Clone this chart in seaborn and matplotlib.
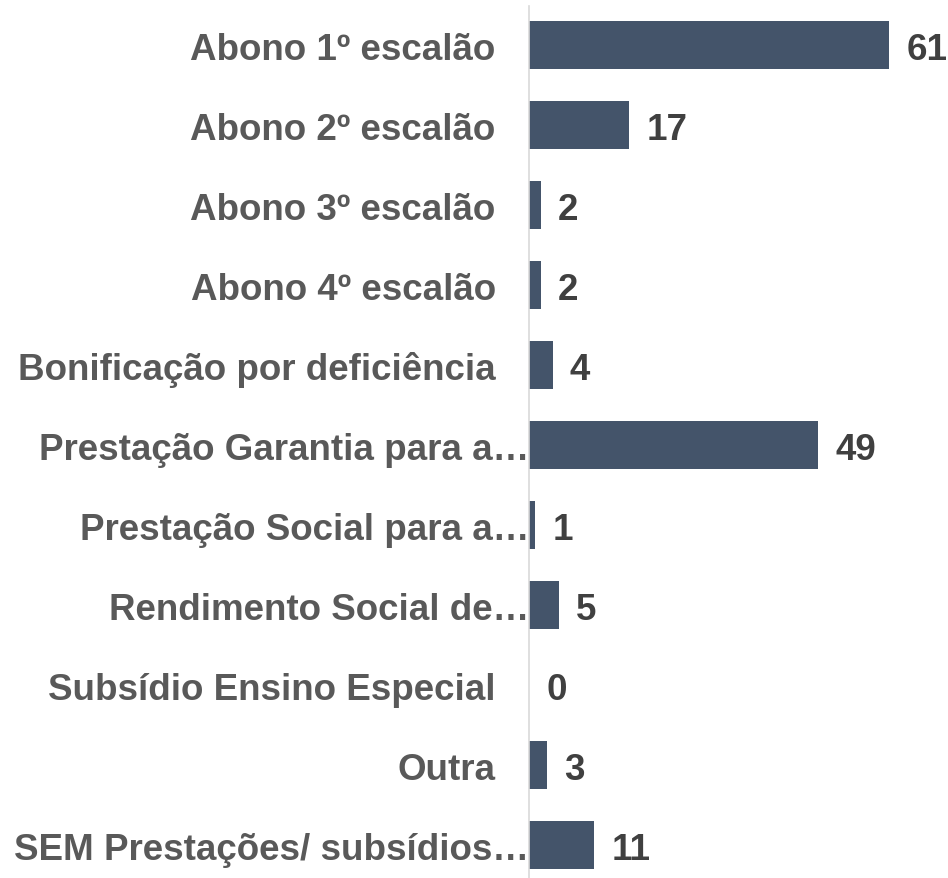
import matplotlib
matplotlib.use('Agg')
import matplotlib.pyplot as plt
import matplotlib.transforms as mtransforms
import pandas as pd
import seaborn as sns

categorias = ['Abono 1º escalão', 'Abono 2º escalão', 'Abono 3º escalão', 'Abono 4º escalão',
              'Bonificação por deficiência', 'Prestação Garantia para a…',
              'Prestação Social para a…', 'Rendimento Social de…',
              'Subsídio Ensino Especial', 'Outra', 'SEM Prestações/ subsídios…']
valores = [61, 17, 2, 2, 4, 49, 1, 5, 0, 3, 11]

bar_color = '#44546A'
label_color = '#595959'
value_color = '#404040'

sns.set_style('white')
plt.rcParams['font.family'] = ['Liberation Sans', 'DejaVu Sans']

df = pd.DataFrame({'cat': categorias, 'val': valores})

W, H = 948, 879
fig = plt.figure(figsize=(W / 100, H / 100), dpi=100)
ax_left = 529
ax_top = 7
ax = fig.add_axes([ax_left / W, 0, (W - ax_left) / W, (H - ax_top) / H])

sns.barplot(data=df, x='val', y='cat', color=bar_color, width=0.59, ax=ax,
            saturation=1, edgecolor='none')

px_per_unit = 360 / 61
ax.set_xlim(0, (W - ax_left) / px_per_unit)
ax.set_ylim((H - 46) / 80, (ax_top - 46) / 80)

for i, v in enumerate(valores):
    ax.annotate(str(v), (v, i), xytext=(12.5, 0), textcoords='offset points',
                ha='left', va='center_baseline', fontsize=26.5, fontweight='bold',
                color=value_color)

ax.set_xlabel('')
ax.set_ylabel('')
ax.set_xticks([])
sns.despine(ax=ax, left=False, bottom=True, right=True, top=True)
ax.spines['left'].set_color('#D9D9D9')
ax.spines['left'].set_linewidth(1.2)
ax.tick_params(axis='y', length=0, pad=24, labelsize=26.5, labelcolor=label_color)
for lab in ax.get_yticklabels():
    lab.set_fontweight('bold')
    if lab.get_text().endswith('…'):
        lab.set_transform(lab.get_transform() +
                          mtransforms.ScaledTranslation(24 / 72, 0, fig.dpi_scale_trans))

fig.savefig('out.png', dpi=100)
